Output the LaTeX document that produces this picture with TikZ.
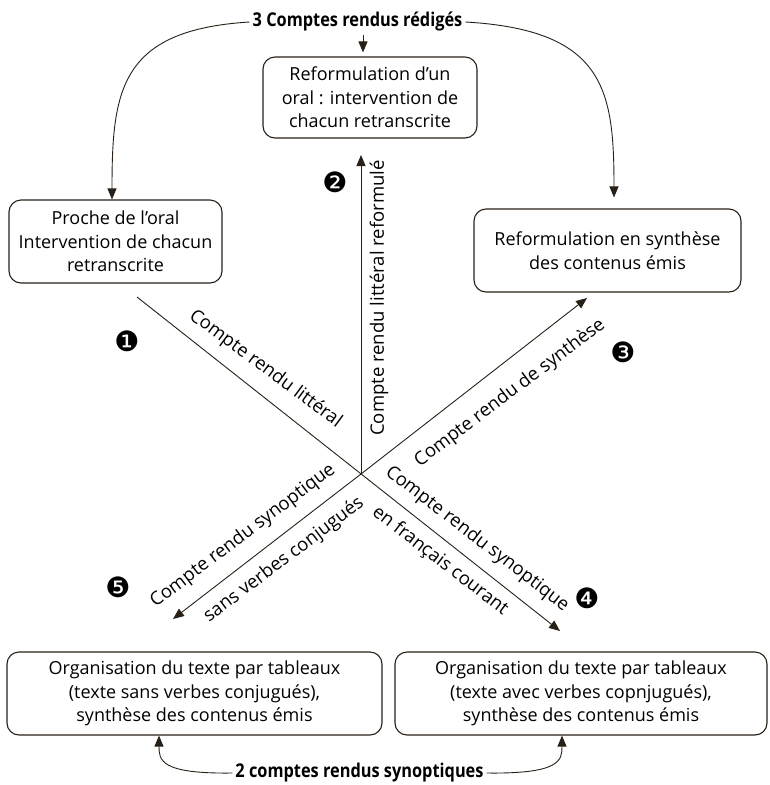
\documentclass[tikz,border=0pt]{standalone}
\usepackage{fontspec}
\setmainfont{Open Sans}
\newfontfamily\boldcond{Open Sans}[FakeStretch=0.86]
\newfontfamily\dingfont{DejaVu Sans}
\usetikzlibrary{arrows.meta}
\definecolor{ink}{RGB}{40,32,22}
\begin{document}
\begin{tikzpicture}[x=1pt,y=-1pt,
  box/.style={draw=ink, line width=1.1pt, rounded corners=12pt, align=center,
    font=\fontsize{18}{23.5}\selectfont, inner sep=0pt, minimum height=83pt},
  lbl/.style={font=\fontsize{18.5}{20}\selectfont, inner sep=0pt},
  head/.style={font=\boldcond\bfseries\fontsize{19}{21}\selectfont, inner sep=3pt},
  arr/.style={draw=ink, line width=0.9pt, -{Triangle[length=11pt,width=9pt]}},
  num/.style={font=\dingfont\fontsize{28}{28}\selectfont, inner sep=0pt}
]
\useasboundingbox (0,0) rectangle (770,785);
% nodes
\node[head] (top) at (357.5,22) {3 Comptes rendus rédigés};
\node[box, minimum width=213pt] (lb) at (115.5,241.5) {Proche de l’oral\\Intervention de chacun\\retranscrite};
\node[box, minimum width=214pt, minimum height=81pt] (cb) at (370,97.5) {Reformulation d’un\\oral : intervention de\\chacun retranscrite};
\node[box, minimum width=267pt] (rb) at (607.5,250.5) {Reformulation en synthèse\\des contenus émis};
\node[box, minimum width=375pt] (blb) at (194.5,693.5) {Organisation du texte par tableaux\\(texte sans verbes conjugués),\\synthèse des contenus émis};
\node[box, minimum width=372pt] (brb) at (581,693.5) {Organisation du texte par tableaux\\(texte avec verbes copnjugués),\\synthèse des contenus émis};
\node[head] (bot) at (359.5,773) {2 comptes rendus synoptiques};
% top connectors
\draw[arr] (top.west) .. controls (120,30) and (112,90) .. ([xshift=-3.5pt]lb.north);
\draw[arr, shorten >=11pt] (top.east) .. controls (605,30) and (614,90) .. ([xshift=6.5pt]rb.north);
\draw[arr, shorten >=4pt] ([xshift=5.5pt]top.south) -- ([xshift=-7pt]cb.north);
% bottom connectors
\draw[arr] (bot.west) .. controls (160,774) and (159,760) .. ([xshift=-35.5pt]blb.south);
\draw[arr] (bot.east) .. controls (561,774) and (562,760) .. ([xshift=-19pt]brb.south);
% crossing lines
\coordinate (C) at (361,474);
\coordinate (P1) at (137,297);
\coordinate (P2) at (560,631);
\coordinate (Q1) at (173,619);
\coordinate (Q2) at (587,298);
\coordinate (V) at (361,155);
\draw[arr] (P1) -- (P2);
\draw[arr] (C) -- (Q1);
\draw[arr] (C) -- (Q2);
\draw[arr] (C) -- (V);
% labels
\node[lbl, rotate=-36.5] (l1) at (265.5,369) {Compte rendu littéral};
\node[lbl, rotate=90] (l2) at (379,298) {Compte rendu littéral reformulé};
\node[lbl, rotate=37] (l3) at (510,393) {Compte rendu de synthèse};
\node[lbl, rotate=-37.5] (l4) at (477,539) {Compte rendu synoptique};
\node[lbl, rotate=-37.5] (l5) at (440,561) {en français courant};
\node[lbl, rotate=37] (l6) at (243,536) {Compte rendu synoptique};
\node[lbl, rotate=37] (l7) at (284,560) {sans verbes conjugués};
% numbers
\node[num] (n1) at (127,341) {❶};
\node[num] (n2) at (335,182) {❷};
\node[num] (n3) at (623,352) {❸};
\node[num] (n4) at (587,598) {❹};
\node[num] (n5) at (118,587) {❺};
\end{tikzpicture}
\end{document}
